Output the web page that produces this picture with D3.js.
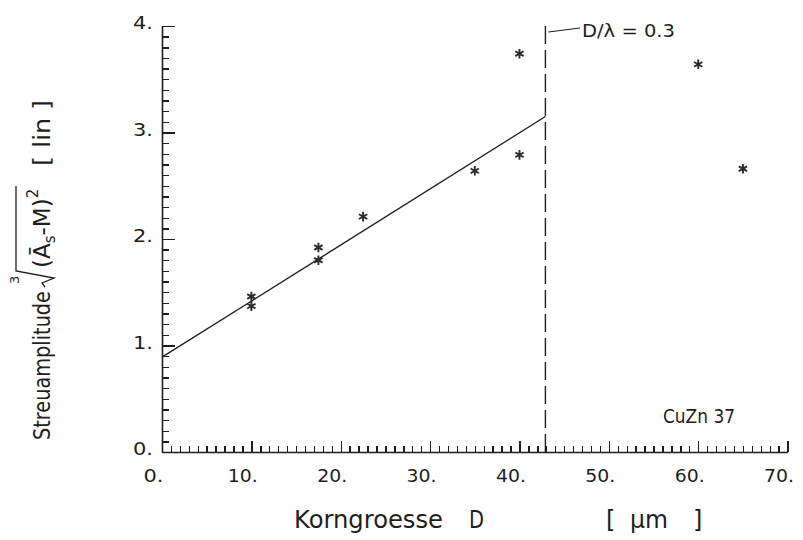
<!DOCTYPE html>
<html>
<head>
<meta charset="utf-8">
<script src="https://cdn.jsdelivr.net/npm/d3@7"></script>
<style>
  html, body { margin: 0; padding: 0; background: #fff; }
  svg { display: block; }
</style>
</head>
<body>
<script>
// ---- data ----
const diameter  = [10, 10, 17.5, 17.5, 22.5, 35, 40, 40, 60, 65];          // Korngroesse D [µm]
const amplitude = [1.46, 1.37, 1.92, 1.80, 2.21, 2.64, 3.74, 2.79, 3.64, 2.66];
const fitD = [0, 42.9];            // regression line end points
const fitV = [0.89, 3.15];
const limitD = 42.9;               // D/lambda = 0.3
const xMajorTicks = [0, 10, 20, 30, 40, 50, 60, 70];
const yMajorTicks = [0, 1, 2, 3, 4];
const xMinorTicks = d3.range(0, 71, 1);
const yMinorTicks = d3.range(0, 41, 1).map(v => v / 10);

const W = 803, H = 540;
const ink = "#1e1e1e";
const sans = "'DejaVu Sans', 'Liberation Sans', sans-serif";

const svg = d3.select("body").append("svg")
  .attr("width", W).attr("height", H)
  .style("background", "#fff");

const xs = d3.scaleLinear().domain([0, 70]).range([162, 787.6]);
const ys = d3.scaleLinear().domain([0, 4]).range([452, 26]);
const isMajorX = d => xMajorTicks.includes(d);
const isMajorY = d => yMajorTicks.some(t => Math.abs(t - d) < 1e-9);

// ---- regression line ----
const fitPts = fitD.map((d, i) => [d, fitV[i]]);
svg.append("path")
  .attr("d", d3.line().x(p => xs(p[0])).y(p => ys(p[1]))(fitPts))
  .attr("fill", "none").attr("stroke", ink).attr("stroke-width", 1.4);

// ---- D/lambda limit (dashed) ----
svg.append("line")
  .attr("x1", xs(limitD)).attr("x2", xs(limitD))
  .attr("y1", ys(0)).attr("y2", ys(4.04))
  .attr("stroke", ink).attr("stroke-width", 1.4)
  .attr("stroke-dasharray", "18,6");
svg.append("line")
  .attr("x1", xs(limitD) + 3).attr("y1", 32)
  .attr("x2", 580).attr("y2", 28)
  .attr("stroke", ink).attr("stroke-width", 1.2);
svg.append("text")
  .attr("x", 582).attr("y", 36.5)
  .attr("font-family", sans).attr("font-size", 18).attr("fill", ink)
  .attr("textLength", 93).attr("lengthAdjust", "spacingAndGlyphs")
  .text("D/λ = 0.3");

// ---- data points ----
const star = d3.symbol().type(d3.symbolAsterisk).size(64);
svg.append("g").selectAll("path")
  .data(diameter.map((d, i) => [d, amplitude[i]]))
  .join("path")
  .attr("transform", p => `translate(${xs(p[0])},${ys(p[1])})`)
  .attr("d", star)
  .attr("fill", "none").attr("stroke", "#2a2a2a").attr("stroke-width", 1.9);

// ---- material label ----
svg.append("text")
  .attr("x", 663).attr("y", 423)
  .attr("font-family", sans).attr("font-size", 19).attr("fill", ink)
  .attr("textLength", 72).attr("lengthAdjust", "spacingAndGlyphs")
  .text("CuZn 37");

// ---- x axis title ----
const xt = svg.append("g").attr("font-family", sans).attr("font-size", 24).attr("fill", ink);
xt.append("text").attr("x", 294).attr("y", 528).attr("textLength", 149).attr("lengthAdjust", "spacingAndGlyphs").text("Korngroesse");
xt.append("text").attr("x", 469).attr("y", 528).attr("textLength", 15).attr("lengthAdjust", "spacingAndGlyphs").text("D");
xt.append("text").attr("x", 606).attr("y", 528).text("[");
xt.append("text").attr("x", 630).attr("y", 528).attr("textLength", 38).attr("lengthAdjust", "spacingAndGlyphs").text("μm");
xt.append("text").attr("x", 693).attr("y", 528).text("]");

// ---- y axis title (rotated) ----
const yt = svg.append("g")
  .attr("transform", "translate(50,440) rotate(-90)")
  .attr("font-family", sans).attr("fill", ink);
yt.append("text").attr("x", 0).attr("y", 0).attr("font-size", 23)
  .attr("textLength", 149).attr("lengthAdjust", "spacingAndGlyphs")
  .text("Streuamplitude");
yt.append("text").attr("x", 156).attr("y", -31).attr("font-size", 13).text("3");
yt.append("path")
  .attr("d", "M153,-5 L157,-8 L162,4 L169,-34 L254,-34")
  .attr("fill", "none").attr("stroke", ink).attr("stroke-width", 1.3);
const rad = yt.append("text").attr("x", 172).attr("y", 0).attr("font-size", 23);
rad.append("tspan").text("(Ā");
rad.append("tspan").attr("dy", 5).attr("font-size", 15).text("s");
rad.append("tspan").attr("dy", -5).text("-M)");
rad.append("tspan").attr("dy", -12).attr("font-size", 15).text("2");
yt.append("text").attr("x", 274).attr("y", 0).attr("font-size", 23)
  .attr("textLength", 66).attr("lengthAdjust", "spacingAndGlyphs")
  .text("[ lin ]");

// ---- axes last: one axis per direction, all ticks inward ----
const gx = svg.append("g").attr("class", "ax").attr("transform", `translate(0,${ys(0)})`)
  .call(d3.axisBottom(xs).tickValues(xMinorTicks).tickSizeInner(-6).tickSizeOuter(0)
    .tickFormat(d => isMajorX(d) ? d + "." : ""));
gx.selectAll(".tick line").attr("y2", d => isMajorX(d) ? -11 : -6);
gx.selectAll(".tick text").filter(d => isMajorX(d))
  .attr("y", 30).attr("dy", null).attr("dx", -9)
  .attr("font-family", sans).attr("font-size", 18).attr("fill", ink)
  .attr("textLength", d => (d + ".").length === 2 ? 20 : 30)
  .attr("lengthAdjust", "spacingAndGlyphs");

const gy = svg.append("g").attr("class", "ax").attr("transform", `translate(${xs(0)},0)`)
  .call(d3.axisLeft(ys).tickValues(yMinorTicks).tickSizeInner(-7).tickSizeOuter(0)
    .tickFormat(d => isMajorY(d) ? Math.round(d) + "." : ""));
gy.selectAll(".tick line").attr("x2", d => isMajorY(d) ? 13 : 7);
gy.selectAll(".tick text").filter(d => isMajorY(d))
  .attr("x", -9).attr("dy", null).attr("y", 2.5)
  .attr("font-family", sans).attr("font-size", 18).attr("fill", ink)
  .attr("textLength", 20).attr("lengthAdjust", "spacingAndGlyphs");

svg.selectAll(".ax .domain").attr("stroke", ink).attr("stroke-width", 1.6);
svg.selectAll(".ax .tick line")
  .attr("stroke", ink).attr("stroke-width", 1.4)
  .attr("shape-rendering", "crispEdges");
</script>
</body>
</html>
